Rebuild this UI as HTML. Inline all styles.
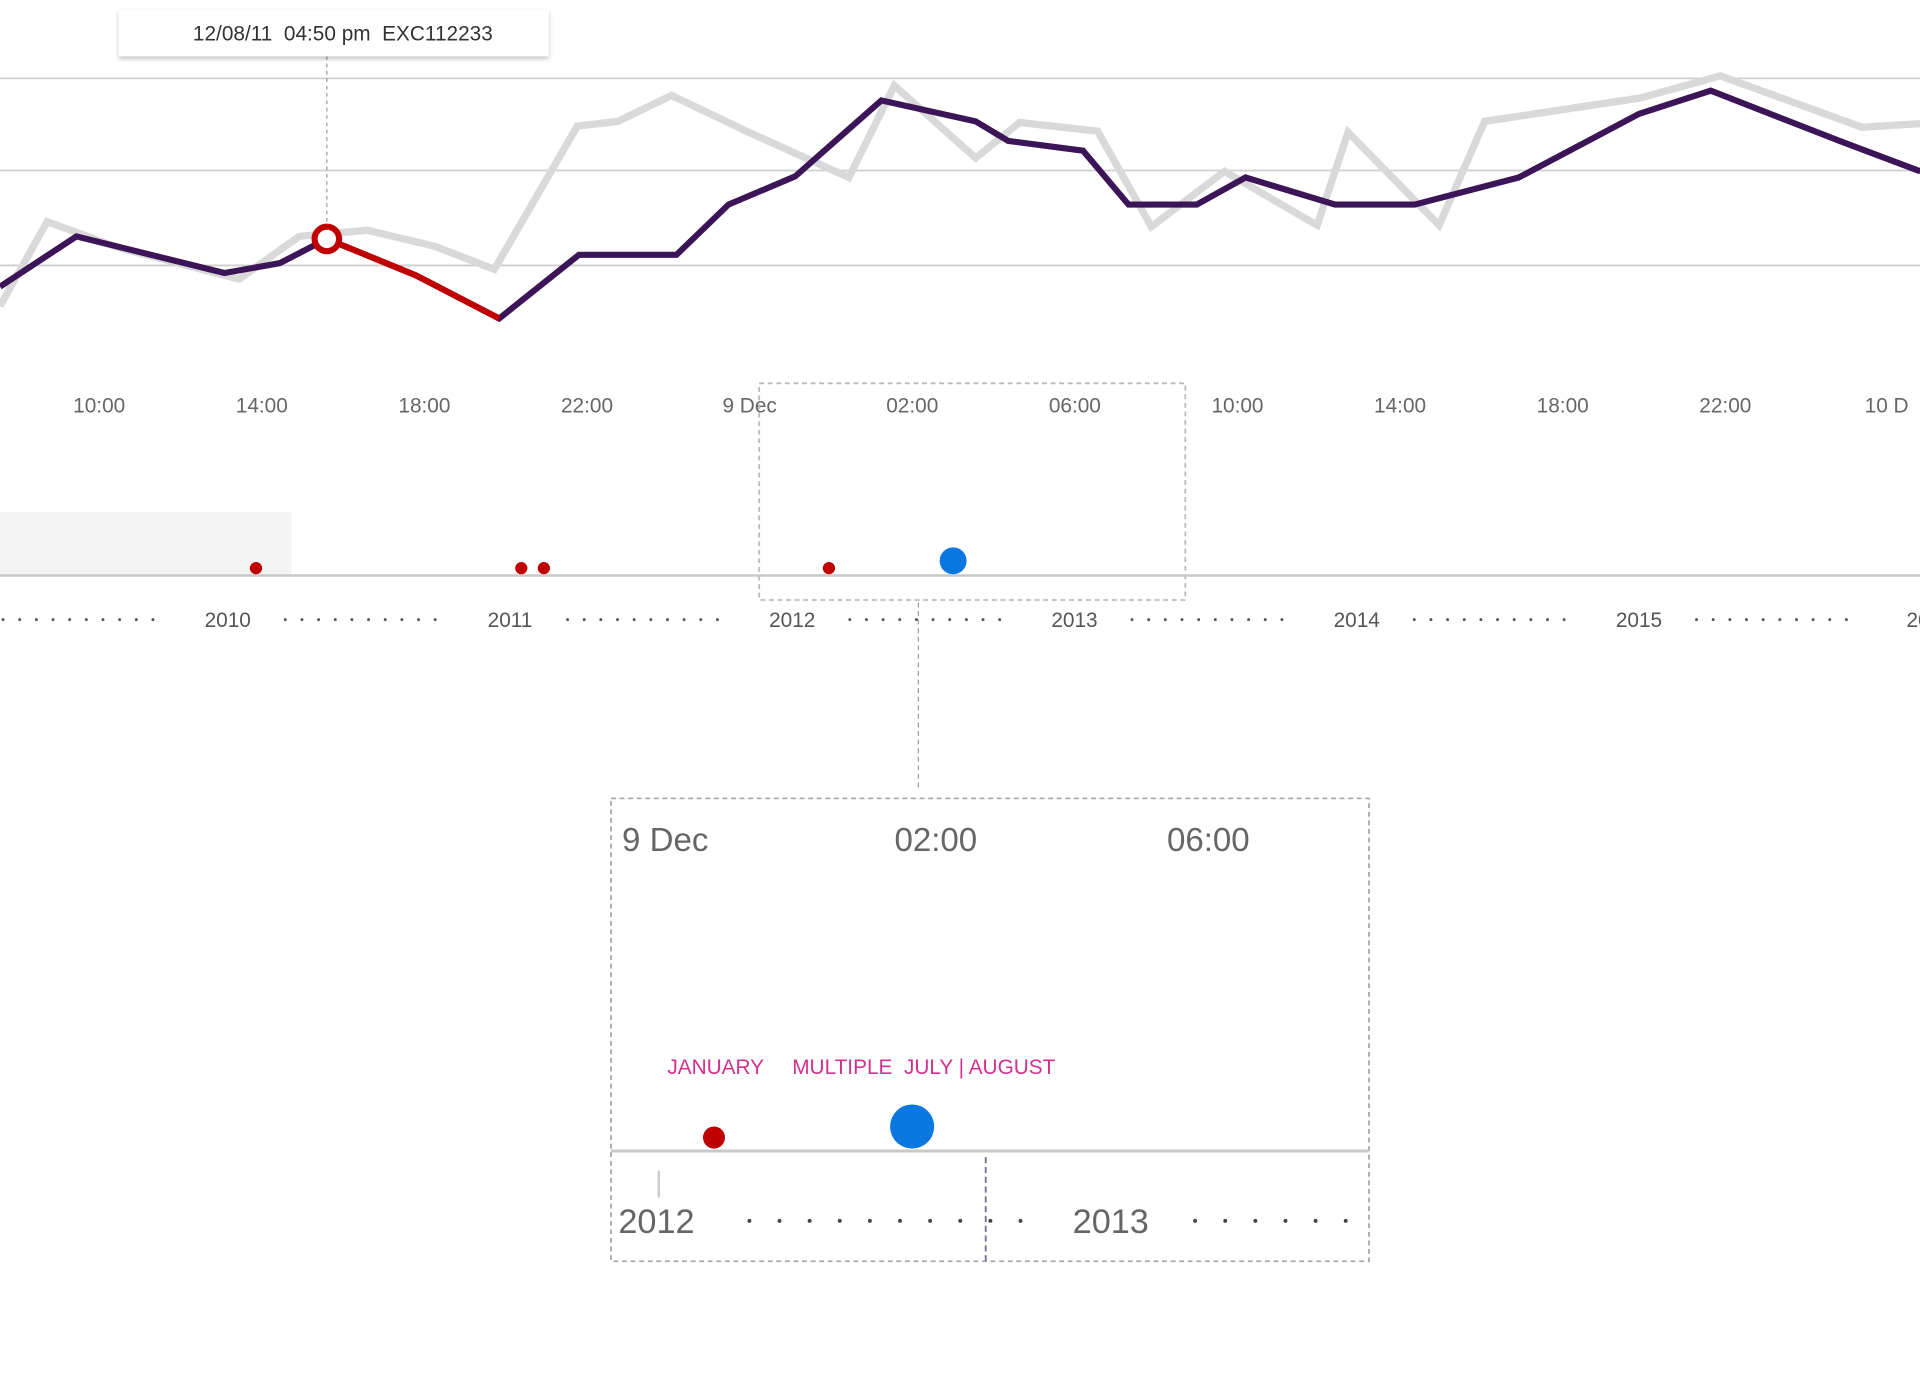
<!DOCTYPE html>
<html><head><meta charset="utf-8"><style>
html,body{margin:0;padding:0;background:#fff;}
svg{display:block;font-family:"Liberation Sans",sans-serif;}
text{white-space:pre;}
</style></head><body>
<svg id="c" width="1920" height="1393" viewBox="0 0 1568 1137.6"></svg>
<script>
const tickLabels=["10:00","14:00","18:00","22:00","9 Dec","02:00","06:00","10:00","14:00","18:00","22:00","10 D"];
// x positions in tick units (0 = first tick), values in % units
const mainX=[-0.61,-0.14,0.77,1.11,1.40,1.95,2.46,2.95,3.55,3.87,4.28,4.81,5.39,5.59,6.05,6.33,6.75,7.05,7.60,8.09,8.73,9.47,9.91,10.72,11.20];
const mainV=[25.4,43.4,30.3,33.8,42.5,29.4,14.0,36.8,36.8,54.8,64.9,92.1,84.6,77.6,74.1,54.8,54.8,64.5,54.8,54.8,64.5,87.3,95.6,77.2,66.7];
const compX=[-0.61,-0.32,0.11,0.86,1.23,1.65,2.06,2.43,2.94,3.19,3.52,3.98,4.61,4.89,5.39,5.66,6.14,6.47,6.92,7.49,7.68,8.24,8.52,9.48,9.97,10.84,11.20];
const compV=[18.4,48.7,39.5,28.1,43.4,45.6,39.9,31.6,82.9,84.6,93.9,81.1,64.5,97.4,71.5,84.2,81.1,46.9,66.7,47.4,80.7,47.4,84.6,93.0,100.9,82.5,83.8];
const highlightRange=[4,6];
const selectedIndex=4;
const years=["2010","2011","2012","2013","2014","2015","20"];
const eventsYear=[2010.1,2011.04,2011.12,2012.13,2012.57];
const eventsSize=[1,1,1,1,3];
const eventsColor=["#c00000","#c00000","#c00000","#c00000","#0a78e0"];
const zoomLabels=["9 Dec","02:00","06:00"];
const zoomYears=["2012","2013"];
const zoomEventYear=[2012.13,2012.57];
const zoomEventSize=[1,2];

const NS="http://www.w3.org/2000/svg";
const svg=document.getElementById('c');
function el(t,a,p){const e=document.createElementNS(NS,t);for(const k in a)e.setAttribute(k,a[k]);(p||svg).appendChild(e);return e;}
const xs=u=>81+u*132.8;
const ys=v=>292-v*2.28;
const yr=y=>186+(y-2010)*230.5;
const zx=y=>537+(y-2012)*370;

[100,67,33].forEach(v=>{const g=el('line',{x1:0,x2:1568,y1:ys(v),y2:ys(v),stroke:'#cfcfcf','stroke-width':1.5});
});
const cp=el('polyline',{points:compX.map((x,i)=>xs(x)+','+ys(compV[i])).join(' '),fill:'none',stroke:'#d9d9d9','stroke-width':6});

const mp=el('polyline',{points:mainX.map((x,i)=>xs(x)+','+ys(mainV[i])).join(' '),fill:'none',stroke:'#3b1557','stroke-width':5});

const rp=el('polyline',{points:mainX.slice(highlightRange[0],highlightRange[1]+1).map((x,i)=>xs(x)+','+ys(mainV[i+highlightRange[0]])).join(' '),fill:'none',stroke:'#c00000','stroke-width':5});

const sx=xs(mainX[selectedIndex]),sy=ys(mainV[selectedIndex]);
const tl=el('line',{x1:sx,x2:sx,y1:46,y2:sy-10,stroke:'#999','stroke-dasharray':'3,3'});

const defs=el('defs',{});
const f=el('filter',{id:'sh',x:'-10%',y:'-30%',width:'120%',height:'170%'},defs);
el('feDropShadow',{dx:0,dy:2,stdDeviation:2,'flood-opacity':0.25},f);
const tr=el('rect',{x:97,y:8,width:351,height:38,fill:'#fff',filter:'url(#sh)'});

const tt=el('text',{x:280,y:33,'text-anchor':'middle','font-size':17,fill:'#333'});
tt.textContent='12/08/11  04:50 pm  EXC112233';

const sc=el('circle',{cx:sx,cy:sy,r:10,fill:'#fff',stroke:'#c00000','stroke-width':5});

tickLabels.forEach((t,i)=>{const e=el('text',{x:xs(i),y:337,'text-anchor':i==11?'start':'middle','font-size':17,fill:'#666'});
if(i==11)e.setAttribute('x',xs(i)-19);
e.textContent=t;});
const br=el('rect',{x:620,y:313,width:348,height:177,fill:'none',stroke:'#bbb','stroke-width':1.5,'stroke-dasharray':'4,3'});

const sh=el('rect',{x:0,y:418,width:238,height:52,fill:'#f4f4f4'});

const bl=el('line',{x1:0,x2:1568,y1:470,y2:470,stroke:'#c8c8c8','stroke-width':2});

eventsYear.forEach((y,i)=>{const r=eventsSize[i]>1?11:5;const c=el('circle',{cx:yr(y),cy:470-r-1,r:r,fill:eventsColor[i]});
});
years.forEach((t,i)=>{const e=el('text',{x:yr(2010+i),y:512,'text-anchor':i==6?'start':'middle','font-size':17,fill:'#555'});
if(i==6)e.setAttribute('x',yr(2010+i)-12);
e.textContent=t;
});
for(let i=-1;i<6;i++){for(let k=0;k<10;k++){const x=yr(2010+i)+47+k*13.6;if(x<0||x>1568)continue;
const d=el('circle',{cx:x,cy:506,r:1.2,fill:'#555'});}}
const cn=el('line',{x1:750,x2:750,y1:492,y2:645,stroke:'#999','stroke-dasharray':'4,3'});

const zb=el('rect',{x:499,y:652,width:619,height:378,fill:'none',stroke:'#aaa','stroke-width':1.5,'stroke-dasharray':'4,3'});

zoomLabels.forEach((t,i)=>{const e=el('text',{x:508+i*222.5,y:695,'font-size':27,fill:'#666'});
e.textContent=t;});
const zl=el('line',{x1:499,x2:1118,y1:940,y2:940,stroke:'#c8c8c8','stroke-width':2.5});

[["JANUARY",545],["MULTIPLE  JULY | AUGUST",647]].forEach(([t,x])=>{const e=el('text',{x:x,y:877,'font-size':17,fill:'#d52f8f'});
e.textContent=t;});
zoomEventYear.forEach((y,i)=>{const r=zoomEventSize[i]>1?18:9;const c=el('circle',{cx:zx(y)+(i==0?-2:-3),cy:939-r-1,r:r,fill:i==0?'#c00000':'#0a78e0'});
});
const tk=el('line',{x1:538,x2:538,y1:956,y2:978,stroke:'#ccc','stroke-width':2});

const vd=el('line',{x1:805,x2:805,y1:945,y2:1030,stroke:'#7a6a9a','stroke-width':1.5,'stroke-dasharray':'5,3'});

zoomYears.forEach((t,i)=>{const e=el('text',{x:505+i*371,y:1007,'font-size':28,fill:'#666'});
e.textContent=t;});
for(let k=0;k<10;k++){const d=el('circle',{cx:612+k*24.6,cy:997,r:1.6,fill:'#444'});}
for(let k=0;k<6;k++){const d=el('circle',{cx:976+k*24.6,cy:997,r:1.6,fill:'#444'});}
</script>
</body></html>
